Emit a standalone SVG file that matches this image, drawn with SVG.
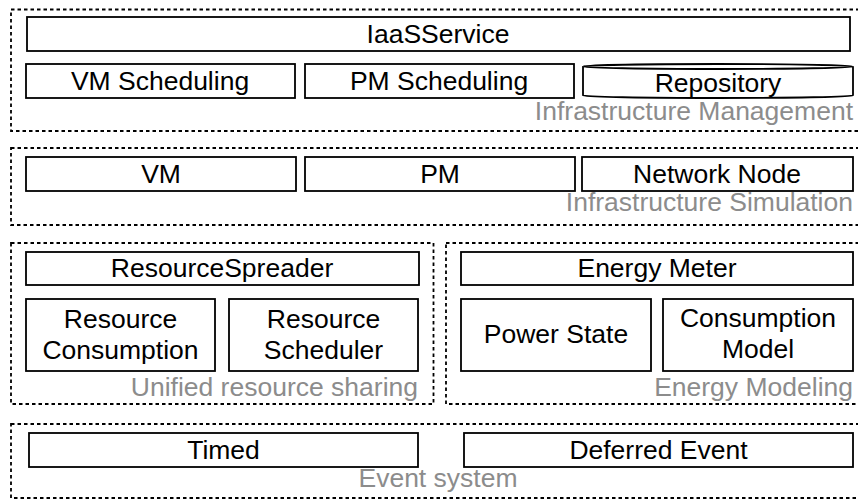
<svg xmlns="http://www.w3.org/2000/svg" width="858" height="500" viewBox="0 0 858 500">
<style>
.grp{fill:none;stroke:#000;stroke-width:1.8;stroke-dasharray:3.5 3}
.box{fill:#fff;stroke:#000;stroke-width:1.8}
.t{font-family:"Liberation Sans",Arial,sans-serif;font-size:26.5px;fill:#000;text-anchor:middle}
.g{font-family:"Liberation Sans",Arial,sans-serif;font-size:26.5px;fill:#8c8c8c;text-anchor:end}
</style>
<rect width="858" height="500" fill="#fff"/>
<g id="infra-management">
<rect class="grp" x="11" y="9.5" width="860" height="121.5"/>
<text class="g" x="853" y="120">Infrastructure Management</text>
</g>
<g id="infra-simulation">
<rect class="grp" x="11" y="148" width="860" height="77"/>
<text class="g" x="853" y="211">Infrastructure Simulation</text>
</g>
<g id="unified-sharing">
<rect class="grp" x="11" y="243" width="422.5" height="161"/>
<text class="g" x="418" y="396">Unified resource sharing</text>
</g>
<g id="energy-modeling">
<rect class="grp" x="446" y="243" width="420" height="161"/>
<text class="g" x="853" y="396">Energy Modeling</text>
</g>
<g id="event-system">
<rect class="grp" x="11" y="424" width="860" height="74"/>
<text class="t" x="438" y="487" style="fill:#8c8c8c">Event system</text>
</g>
<g id="iaasservice">
<rect class="box" x="27" y="17" width="823" height="34"/>
<text class="t" x="438" y="42.5">IaaSService</text>
</g>
<g id="vm-scheduling">
<rect class="box" x="26" y="64" width="269" height="34"/>
<text class="t" x="160" y="89.5">VM Scheduling</text>
</g>
<g id="pm-scheduling">
<rect class="box" x="305" y="64" width="269" height="34"/>
<text class="t" x="439" y="89.5">PM Scheduling</text>
</g>
<g id="repository">
<path class="box" d="M583,66.5 L583,95.5 A135,2.5 0 0 0 853,95.5 L853,66.5 A135,2.5 0 0 0 583,66.5 Z"/>
<path class="box" d="M583,66.5 A135,2.5 0 0 0 853,66.5" fill="none"/>
<text class="t" x="718" y="92">Repository</text>
</g>
<g id="vm">
<rect class="box" x="26" y="157" width="270" height="34"/>
<text class="t" x="161" y="182.5">VM</text>
</g>
<g id="pm">
<rect class="box" x="305" y="157" width="270" height="34"/>
<text class="t" x="440" y="182.5">PM</text>
</g>
<g id="network-node">
<rect class="box" x="582" y="157" width="271" height="34"/>
<text class="t" x="717" y="182.5">Network Node</text>
</g>
<g id="resource-spreader">
<rect class="box" x="26" y="252" width="393" height="33"/>
<text class="t" x="222" y="277">ResourceSpreader</text>
</g>
<g id="resource-consumption">
<rect class="box" x="26" y="299" width="189" height="72"/>
<text class="t" x="120.5" y="328">Resource</text>
<text class="t" x="120.5" y="359">Consumption</text>
</g>
<g id="resource-scheduler">
<rect class="box" x="229" y="299" width="189" height="72"/>
<text class="t" x="323.5" y="328">Resource</text>
<text class="t" x="323.5" y="359">Scheduler</text>
</g>
<g id="energy-meter">
<rect class="box" x="461" y="252" width="392" height="33"/>
<text class="t" x="657" y="277">Energy Meter</text>
</g>
<g id="power-state">
<rect class="box" x="461" y="299" width="190" height="72"/>
<text class="t" x="556" y="343">Power State</text>
</g>
<g id="consumption-model">
<rect class="box" x="663" y="299" width="190" height="72"/>
<text class="t" x="758" y="327">Consumption</text>
<text class="t" x="758" y="358">Model</text>
</g>
<g id="timed">
<rect class="box" x="29" y="433" width="389" height="34"/>
<text class="t" x="223.5" y="458.5">Timed</text>
</g>
<g id="deferred-event">
<rect class="box" x="464" y="433" width="389" height="34"/>
<text class="t" x="658.5" y="458.5">Deferred Event</text>
</g>
<g id="connectors"></g>
</svg>
